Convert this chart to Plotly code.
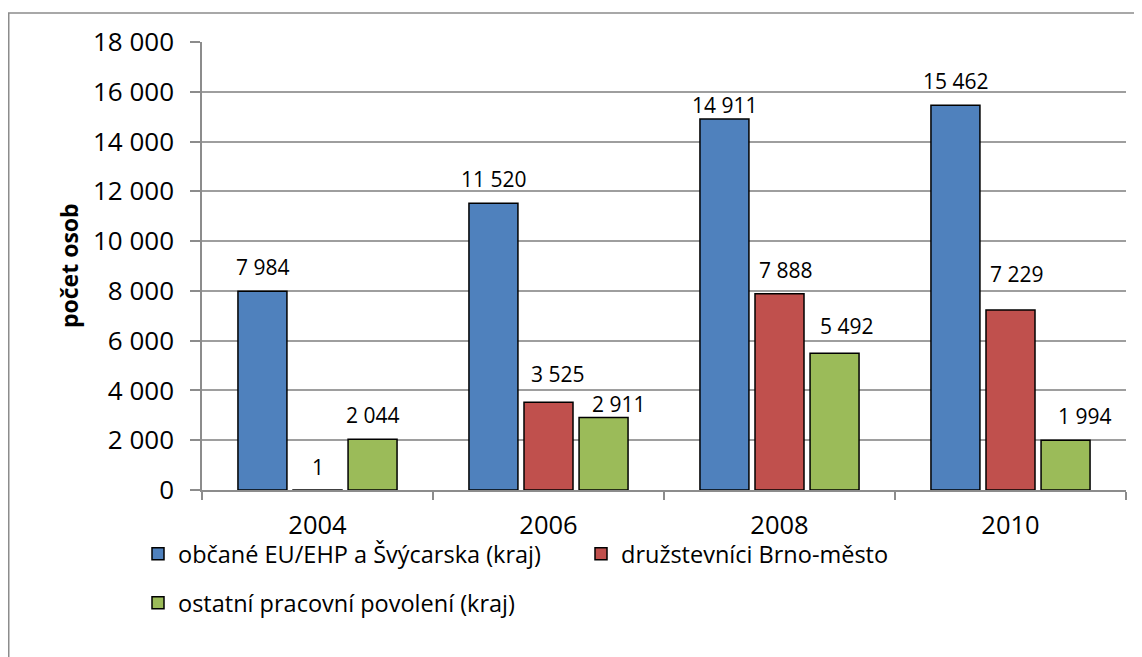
import plotly.graph_objects as go

years = ["2004", "2006", "2008", "2010"]
series_names = [
    "občané EU/EHP a Švýcarska (kraj)",
    "družstevníci Brno-město",
    "ostatní pracovní povolení (kraj)",
]
eu_citizens = [7984, 11520, 14911, 15462]
cooperative_brno = [1, 3525, 7888, 7229]
other_permits = [2044, 2911, 5492, 1994]
y_ticks = [0, 2000, 4000, 6000, 8000, 10000, 12000, 14000, 16000, 18000]

# styling / label placement tuning (pixels)
colors = ["#4F81BD", "#C0504D", "#9BBB59"]
label_dx = [[0, 0, 0, 0], [0, 9, 6, 6], [0, 15, 12, 19]]
label_dy = [[24, 24, 14, 24], [23, 28, 24, 36], [24, 14, 27, 24]]
group_offsets = [-55, 0, 55]

FONT = "Open Sans"
W, H = 1142, 657
OFF = 8  # page body margin offset in the screenshot
ML, MT = 202 - OFF, 42 - OFF
MR = W - (1126 - OFF)
MB = H - (490 - OFF)
PW, PH = W - ML - MR, H - MT - MB


def px_x(px):
    return (px - OFF - ML) / PW


def px_y(py):
    return (H - MB - (py - OFF)) / PH


def fmt(v):
    return f"{v:,}".replace(",", " ")


fig = go.Figure()
all_values = [eu_citizens, cooperative_brno, other_permits]
legend_ids = ["legend", "legend", "legend2"]
for i, (name, vals) in enumerate(zip(series_names, all_values)):
    fig.add_trace(go.Bar(
        x=years, y=vals, name=name,
        marker=dict(color=colors[i], line=dict(color="#000000", width=1.5)),
        legend=legend_ids[i],
    ))

annotations = []
for i, vals in enumerate(all_values):
    for j, v in enumerate(vals):
        annotations.append(dict(
            x=j, y=v, xref="x", yref="y", text=fmt(v), showarrow=False,
            xshift=group_offsets[i] + label_dx[i][j], yshift=label_dy[i][j],
            font=dict(family=FONT, size=21, color="#000000"),
            xanchor="center", yanchor="middle",
        ))

annotations.append(dict(
    x=px_x(69), y=px_y(266), xref="paper", yref="paper", text="<b>počet osob</b>",
    textangle=-90, showarrow=False, xanchor="center", yanchor="middle",
    font=dict(family=FONT, size=23, color="#000000"),
))

fig.update_layout(
    width=W, height=H,
    margin=dict(l=ML, r=MR, t=MT, b=MB),
    paper_bgcolor="white", plot_bgcolor="white",
    barmode="group", bargap=0.285, bargroupgap=0.11,
    separators=", ",
    font=dict(family=FONT, size=24, color="#000000"),
    annotations=annotations,
    shapes=[dict(
        type="rect", xref="paper", yref="paper",
        x0=px_x(8.75), x1=px_x(1170), y0=px_y(720), y1=px_y(13),
        line=dict(color="#8C8C8C", width=1.5), fillcolor="rgba(0,0,0,0)", layer="below",
    )],
    legend=dict(
        orientation="h", x=px_x(138), y=px_y(532), xanchor="left", yanchor="top",
        font=dict(family=FONT, size=23.5, color="#000000"), bgcolor="rgba(0,0,0,0)",
        itemclick=False, traceorder="normal", entrywidth=398, entrywidthmode="pixels",
    ),
    legend2=dict(
        orientation="h", x=px_x(138), y=px_y(581), xanchor="left", yanchor="top",
        font=dict(family=FONT, size=23.5, color="#000000"), bgcolor="rgba(0,0,0,0)",
        itemclick=False,
    ),
    showlegend=True,
)

fig.update_xaxes(
    type="category", range=[-0.5, 3.5], showgrid=False, showline=True,
    linecolor="#8C8C8C", linewidth=1.5,
    ticks="outside", tickson="boundaries", ticklen=8, tickcolor="#8C8C8C", tickwidth=1.5,
    tickfont=dict(family=FONT, size=25.5, color="#000000"), ticklabelstandoff=12,
)
fig.update_yaxes(
    range=[0, 18000], tickvals=y_ticks, tickformat=",d",
    showgrid=True, gridcolor="#9E9E9E", gridwidth=1.5,
    showline=True, linecolor="#8C8C8C", linewidth=1.5,
    ticks="outside", ticklen=10, tickcolor="#8C8C8C", tickwidth=1.5,
    tickfont=dict(family=FONT, size=26, color="#000000"), ticklabelstandoff=11,
    zeroline=False,
)

fig.write_html("out.html")
